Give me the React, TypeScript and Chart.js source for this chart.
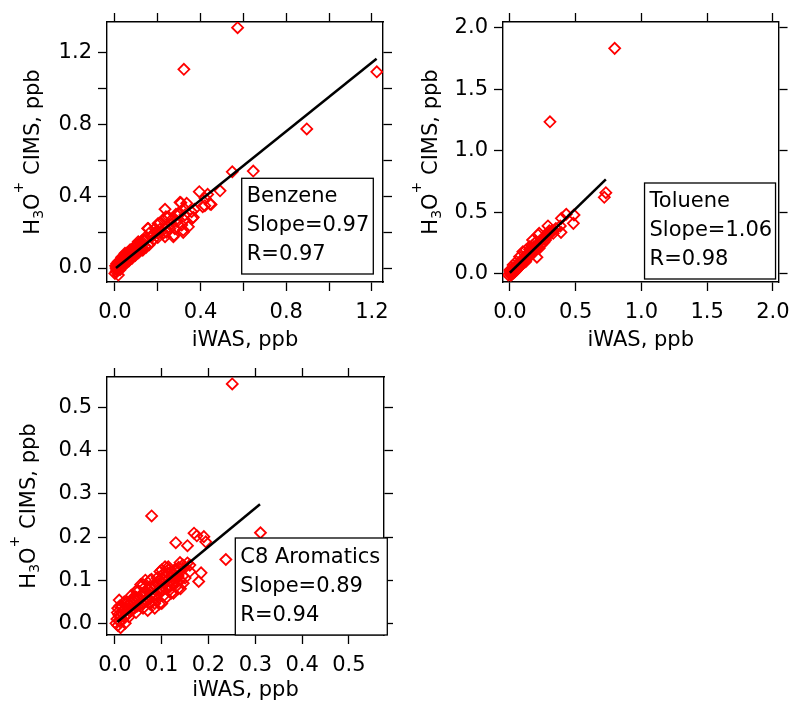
import React, { useEffect, useRef } from "react";
import { Chart, registerables } from "chart.js";

Chart.register(...registerables);

const FONT_FAMILY = "'DejaVu Sans', 'Lucida Grande', sans-serif";

// ---------------- Benzene ----------------
const benzenePoints: [number, number][] = [
  [0.573, 1.341], [0.322, 1.109], [1.223, 1.095], [0.896, 0.776], [0.646, 0.541], [0.548, 0.537],
  [0.491, 0.431], [0.394, 0.426], [0.421, 0.389], [0.449, 0.355], [0.41, 0.342], [0.308, 0.364],
  [0.335, 0.361], [0.322, 0.333], [0.371, 0.328], [0.296, 0.305], [0.327, 0.296], [0.361, 0.277],
  [0.238, 0.286], [0.202, 0.249], [0.226, 0.268], [0.319, 0.212], [0.312, 0.24], [0.276, 0.184],
  [0.234, 0.175], [0.202, 0.194], [0.153, 0.221], [0.187, 0.221], [0.257, 0.221], [0.171, 0.175],
  [0.14, 0.156], [0.109, 0.147], [0.125, 0.128], [0.093, 0.11], [0.07, 0.1], [0.047, 0.082],
  [0.031, 0.06], [0.016, 0.035], [0.008, -0.011], [0.016, -0.039], [0.0, -0.03], [0.171, 0.147],
  [0.14, 0.12], [0.109, 0.1], [0.433, 0.411], [0.444, 0.357], [0.42, 0.348], [0.304, 0.367],
  [0.358, 0.314], [0.366, 0.283], [0.324, 0.268], [0.304, 0.305], [0.249, 0.286], [0.234, 0.328],
  [0.156, 0.221], [0.226, 0.194], [0.273, 0.175], [0.319, 0.199], [0.343, 0.23], [0.265, 0.246],
  [0.21, 0.216], [0.179, 0.184], [0.132, 0.156],
  [0.005, 0.0], [0.01, 0.01], [0.012, -0.005], [0.018, 0.02], [0.02, 0.005], [0.022, 0.03],
  [0.025, 0.015], [0.028, 0.04], [0.03, 0.02], [0.033, 0.05], [0.035, 0.03], [0.038, 0.045],
  [0.04, 0.06], [0.042, 0.03], [0.045, 0.07], [0.048, 0.05], [0.05, 0.035], [0.052, 0.075],
  [0.055, 0.06], [0.058, 0.085], [0.06, 0.045], [0.062, 0.07], [0.065, 0.09], [0.068, 0.055],
  [0.07, 0.08], [0.073, 0.1], [0.075, 0.065], [0.078, 0.085], [0.08, 0.105], [0.083, 0.07],
  [0.085, 0.095], [0.088, 0.115], [0.09, 0.08], [0.093, 0.12], [0.095, 0.09], [0.098, 0.125],
  [0.1, 0.085], [0.104, 0.13], [0.107, 0.1], [0.11, 0.135], [0.113, 0.11], [0.117, 0.14],
  [0.12, 0.1], [0.124, 0.15], [0.128, 0.115], [0.003, 0.012], [0.008, 0.025], [0.015, 0.0],
  [0.006, -0.02], [0.024, -0.01], [0.035, 0.01], [0.045, 0.02], [0.055, 0.03], [0.065, 0.04],
  [0.08, 0.055], [0.095, 0.07], [0.11, 0.085], [0.13, 0.1], [0.145, 0.115], [0.16, 0.13],
  [0.18, 0.16], [0.19, 0.2], [0.2, 0.17], [0.215, 0.2], [0.24, 0.2], [0.25, 0.23], [0.28, 0.22],
  [0.29, 0.26], [0.145, 0.175], [0.165, 0.2], [0.21, 0.25], [0.265, 0.27], [0.285, 0.3],
];
const benzeneFit: [number, number][] = [[0.005, 0.0], [1.222, 1.168]];
const benzeneLabel = ["Benzene", "Slope=0.97", "R=0.97"];
const benzeneXTicks = [0, 0.2, 0.4, 0.6, 0.8, 1.0, 1.2];
const benzeneXTickLabels = ["0.0", "", "0.4", "", "0.8", "", "1.2"];
const benzeneYTicks = [0, 0.2, 0.4, 0.6, 0.8, 1.0, 1.2];
const benzeneYTickLabels = ["0.0", "", "0.4", "", "0.8", "", "1.2"];

// ---------------- Toluene ----------------
const toluenePoints: [number, number][] = [
  [0.797, 1.832], [0.305, 1.236], [0.73, 0.66], [0.718, 0.623], [0.488, 0.479], [0.483, 0.411],
  [0.429, 0.485], [0.392, 0.452], [0.389, 0.338], [0.29, 0.39], [0.215, 0.317], [0.206, 0.136],
  [0.384, 0.39], [0.297, 0.33], [0.272, 0.276], [0.223, 0.33], [0.173, 0.276], [0.149, 0.222],
  [0.124, 0.195], [0.099, 0.181], [0.074, 0.14], [0.05, 0.1], [0.025, 0.073], [0.0, 0.032],
  [-0.012, -0.008], [0.223, 0.209],
  [0.005, 0.0], [0.01, 0.015], [0.015, 0.005], [0.02, 0.03], [0.025, 0.02], [0.03, 0.045],
  [0.035, 0.03], [0.04, 0.055], [0.045, 0.035], [0.05, 0.065], [0.055, 0.05], [0.06, 0.08],
  [0.065, 0.06], [0.07, 0.09], [0.075, 0.07], [0.08, 0.1], [0.085, 0.08], [0.09, 0.11],
  [0.095, 0.09], [0.1, 0.12], [0.105, 0.1], [0.11, 0.135], [0.115, 0.11], [0.12, 0.145],
  [0.125, 0.12], [0.13, 0.16], [0.135, 0.13], [0.14, 0.17], [0.145, 0.14], [0.15, 0.18],
  [0.155, 0.15], [0.16, 0.19], [0.165, 0.16], [0.17, 0.2], [0.175, 0.17], [0.18, 0.21],
  [0.185, 0.18], [0.19, 0.22], [0.2, 0.23], [0.21, 0.24], [0.22, 0.25], [0.23, 0.26],
  [0.24, 0.28], [0.25, 0.29], [0.26, 0.3], [0.2, 0.2], [0.24, 0.24], [0.26, 0.26],
  [0.28, 0.31], [0.3, 0.32], [0.32, 0.35], [0.35, 0.37], [0.012, 0.04], [0.003, 0.02],
  [0.008, -0.01], [0.02, 0.0], [0.03, 0.01], [0.04, 0.02], [0.05, 0.03], [0.06, 0.045],
  [0.07, 0.055], [0.08, 0.065], [0.09, 0.075], [0.1, 0.085], [0.12, 0.1],
  [0.15, 0.2], [0.16, 0.17], [0.18, 0.19], [0.19, 0.25], [0.2, 0.26], [0.21, 0.22],
  [0.25, 0.25], [0.27, 0.3], [0.3, 0.35], [0.33, 0.33], [0.17, 0.23],
];
const tolueneFit: [number, number][] = [[0.0, 0.01], [0.73, 0.769]];
const tolueneLabel = ["Toluene", "Slope=1.06", "R=0.98"];
const tolueneXTicks = [0, 0.5, 1.0, 1.5, 2.0];
const tolueneXTickLabels = ["0.0", "0.5", "1.0", "1.5", "2.0"];
const tolueneYTicks = [0, 0.5, 1.0, 1.5, 2.0];
const tolueneYTickLabels = ["0.0", "0.5", "1.0", "1.5", "2.0"];

// ---------------- C8 Aromatics ----------------
const c8Points: [number, number][] = [
  [0.2507, 0.555], [0.0784, 0.249], [0.311, 0.21], [0.237, 0.148], [0.169, 0.209], [0.175, 0.203],
  [0.19, 0.201], [0.194, 0.189], [0.13, 0.187], [0.155, 0.18], [0.184, 0.117], [0.179, 0.097],
  [0.16, 0.12], [0.146, 0.093], [0.139, 0.141], [0.114, 0.131], [0.1, 0.124], [0.105, 0.117],
  [0.128, 0.104], [0.117, 0.085], [0.078, 0.102], [0.009, 0.054], [0.1, 0.046], [0.085, 0.046],
  [0.043, 0.062], [0.107, 0.131], [0.096, 0.12], [0.11, 0.12], [0.075, 0.1], [0.118, 0.097],
  [0.128, 0.108],
  [0.002, 0.0], [0.004, 0.01], [0.006, -0.005], [0.008, 0.02], [0.01, 0.005], [0.012, 0.015],
  [0.014, 0.025], [0.016, 0.008], [0.018, 0.03], [0.02, 0.015], [0.022, 0.035], [0.024, 0.02],
  [0.026, 0.04], [0.028, 0.022], [0.03, 0.045], [0.032, 0.028], [0.034, 0.05], [0.036, 0.03],
  [0.038, 0.052], [0.04, 0.035], [0.042, 0.055], [0.044, 0.038], [0.046, 0.06], [0.048, 0.04],
  [0.05, 0.058], [0.052, 0.042], [0.055, 0.065], [0.058, 0.045], [0.06, 0.07], [0.062, 0.05],
  [0.065, 0.072], [0.068, 0.052], [0.07, 0.078], [0.072, 0.055], [0.075, 0.082], [0.078, 0.06],
  [0.08, 0.085], [0.082, 0.062], [0.085, 0.09], [0.088, 0.065], [0.09, 0.095], [0.093, 0.07],
  [0.095, 0.1], [0.098, 0.075], [0.1, 0.105], [0.103, 0.078], [0.106, 0.11], [0.11, 0.08],
  [0.113, 0.115], [0.116, 0.085], [0.12, 0.118], [0.124, 0.09], [0.128, 0.125], [0.132, 0.095],
  [0.136, 0.13], [0.14, 0.1], [0.145, 0.135], [0.15, 0.105], [0.03, 0.015], [0.045, 0.025],
  [0.06, 0.035], [0.075, 0.045], [0.09, 0.055], [0.105, 0.065], [0.12, 0.07], [0.135, 0.08],
  [0.005, 0.025], [0.015, 0.04], [0.025, 0.05], [0.035, 0.065], [0.05, 0.075], [0.065, 0.085],
  [0.012, -0.01], [0.022, 0.0], [0.006, 0.035],
  [0.06, 0.09], [0.065, 0.1], [0.07, 0.06], [0.08, 0.07], [0.09, 0.105], [0.095, 0.08],
  [0.1, 0.095], [0.11, 0.1], [0.115, 0.125], [0.12, 0.11], [0.125, 0.095], [0.13, 0.12],
  [0.135, 0.11], [0.14, 0.125], [0.145, 0.11], [0.15, 0.13], [0.155, 0.14], [0.16, 0.135],
  [0.085, 0.035], [0.095, 0.045], [0.07, 0.03], [0.11, 0.06], [0.125, 0.07], [0.14, 0.08],
  [0.055, 0.09], [0.045, 0.075], [0.035, 0.055], [0.02, 0.05], [0.01, 0.04], [0.115, 0.075],
  [0.13, 0.085],
];
const c8Fit: [number, number][] = [[0.005, 0.003], [0.31, 0.276]];
const c8Label = ["C8 Aromatics", "Slope=0.89", "R=0.94"];
const c8XTicks = [0, 0.1, 0.2, 0.3, 0.4, 0.5];
const c8XTickLabels = ["0.0", "0.1", "0.2", "0.3", "0.4", "0.5"];
const c8YTicks = [0, 0.1, 0.2, 0.3, 0.4, 0.5];
const c8YTickLabels = ["0.0", "0.1", "0.2", "0.3", "0.4", "0.5"];

const xTitleText = "iWAS, ppb";

type PanelProps = {
  points: [number, number][];
  fit: [number, number][];
  label: string[];
  xTicks: number[];
  xTickLabels: string[];
  yTicks: number[];
  yTickLabels: string[];
  xMin: number; xMax: number; yMin: number; yMax: number;
  left: number; top: number; width: number; height: number;
  axisLeft: number; axisRight: number; axisTop: number; axisBottom: number;
  box: { dx: number; dy: number; w: number; h: number; first: number };
  yTitleOffset: number;
  xTitlePadBottom: number;
};

function Panel(p: PanelProps) {
  const ref = useRef<HTMLCanvasElement | null>(null);

  useEffect(() => {
    if (!ref.current) return;
    const tickFont = { family: FONT_FAMILY, size: 21 };

    const axis = (
      position: string,
      min: number,
      max: number,
      ticks: number[],
      labels: string[],
      size: number,
      showLabels: boolean,
      withTitle: boolean
    ): any => {
      const horizontal = position === "top" || position === "bottom";
      return {
        type: "linear",
        position,
        min,
        max,
        afterBuildTicks: (s: any) => {
          s.ticks = ticks.map((v) => ({ value: v }));
        },
        afterFit: (s: any) => {
          if (horizontal) s.height = size;
          else s.width = size;
        },
        ticks: {
          display: showLabels,
          autoSkip: false,
          maxRotation: 0,
          minRotation: 0,
          padding: horizontal ? 9 : 6,
          font: tickFont,
          color: "#000",
          callback: (_v: any, i: number) => labels[i],
        },
        grid: {
          display: true,
          drawOnChartArea: false,
          drawTicks: true,
          tickLength: 9,
          tickColor: "#000",
          tickWidth: 1.3,
        },
        border: { display: true, color: "#000", width: 1.4 },
        title: withTitle
          ? {
              display: true,
              text: xTitleText,
              font: { family: FONT_FAMILY, size: 21 },
              color: "#000",
              padding: { top: 0, bottom: p.xTitlePadBottom },
            }
          : { display: false },
      };
    };

    const decor = {
      id: "decor",
      afterDraw(chart: any) {
        const { ctx, chartArea } = chart;
        // y-axis title with sub/superscript
        ctx.save();
        const cx = chartArea.left - p.yTitleOffset;
        const cy = (chartArea.top + chartArea.bottom) / 2;
        const big = `21px ${FONT_FAMILY}`;
        const small = `14px ${FONT_FAMILY}`;
        const segs = [
          { t: "H", f: big, dy: 0 },
          { t: "3", f: small, dy: 4.5 },
          { t: "O", f: big, dy: 0 },
          { t: "+", f: small, dy: -16 },
          { t: " CIMS, ppb", f: big, dy: 0 },
        ];
        let total = 0;
        for (const s of segs) {
          ctx.font = s.f;
          total += ctx.measureText(s.t).width;
        }
        ctx.translate(cx, cy);
        ctx.rotate(-Math.PI / 2);
        ctx.fillStyle = "#000";
        ctx.textBaseline = "alphabetic";
        ctx.textAlign = "left";
        let x = -total / 2;
        for (const s of segs) {
          ctx.font = s.f;
          ctx.fillText(s.t, x, 7.5 + s.dy);
          x += ctx.measureText(s.t).width;
        }
        ctx.restore();

        // annotation box
        ctx.save();
        const bx = chartArea.right + p.box.dx - p.box.w;
        const by = chartArea.bottom + p.box.dy - p.box.h;
        ctx.fillStyle = "#fff";
        ctx.fillRect(bx, by, p.box.w, p.box.h);
        ctx.strokeStyle = "#000";
        ctx.lineWidth = 1.3;
        ctx.strokeRect(bx, by, p.box.w, p.box.h);
        ctx.font = `21px ${FONT_FAMILY}`;
        ctx.fillStyle = "#000";
        ctx.textBaseline = "middle";
        ctx.textAlign = "left";
        p.label.forEach((t, i) => {
          ctx.fillText(t, bx + 5, by + p.box.first + i * 29);
        });
        ctx.restore();
      },
    };

    const chart = new Chart(ref.current, {
      type: "scatter",
      data: {
        datasets: [
          {
            label: "fit",
            data: p.fit.map(([x, y]) => ({ x, y })),
            showLine: true,
            borderColor: "#000",
            borderWidth: 2.5,
            pointRadius: 0,
            fill: false,
          } as any,
          {
            label: "points",
            data: p.points.map(([x, y]) => ({ x, y })),
            pointStyle: "rectRot",
            pointRadius: 5.5,
            borderColor: "#ff0000",
            borderWidth: 1.8,
            backgroundColor: "rgba(0,0,0,0)",
          } as any,
        ],
      },
      options: {
        responsive: false,
        animation: false,
        events: [],
        layout: { padding: 0 },
        plugins: { legend: { display: false }, tooltip: { enabled: false } },
        scales: {
          x: axis("bottom", p.xMin, p.xMax, p.xTicks, p.xTickLabels, p.axisBottom, true, true),
          x2: axis("top", p.xMin, p.xMax, p.xTicks, p.xTickLabels, p.axisTop, false, false),
          y: axis("left", p.yMin, p.yMax, p.yTicks, p.yTickLabels, p.axisLeft, true, false),
          y2: axis("right", p.yMin, p.yMax, p.yTicks, p.yTickLabels, p.axisRight, false, false),
        },
      } as any,
      plugins: [decor],
    });
    return () => chart.destroy();
  }, []);

  return (
    <div style={{ position: "absolute", left: p.left, top: p.top, width: p.width, height: p.height }}>
      <canvas ref={ref} width={p.width} height={p.height} style={{ display: "block" }} />
    </div>
  );
}

export default function App() {
  return (
    <div style={{ position: "absolute", left: 0, top: 0, width: 799, height: 707, background: "#fff", overflow: "hidden" }}>
      <Panel
        points={benzenePoints} fit={benzeneFit} label={benzeneLabel}
        xTicks={benzeneXTicks} xTickLabels={benzeneXTickLabels}
        yTicks={benzeneYTicks} yTickLabels={benzeneYTickLabels}
        xMin={-0.037} xMax={1.252} yMin={-0.078} yMax={1.373}
        left={0} top={0} width={400} height={355}
        axisLeft={107} axisRight={17} axisTop={22} axisBottom={73}
        box={{ dx: -9.7, dy: -8, w: 131.6, h: 95.7, first: 18.7 }}
        yTitleOffset={76} xTitlePadBottom={1.4}
      />
      <Panel
        points={toluenePoints} fit={tolueneFit} label={tolueneLabel}
        xTicks={tolueneXTicks} xTickLabels={tolueneXTickLabels}
        yTicks={tolueneYTicks} yTickLabels={tolueneYTickLabels}
        xMin={-0.052} xMax={2.043} yMin={-0.065} yMax={2.046}
        left={396} top={0} width={403} height={355}
        axisLeft={107} axisRight={14} axisTop={22} axisBottom={73}
        box={{ dx: -3, dy: -3, w: 131, h: 96, first: 18.7 }}
        yTitleOffset={74} xTitlePadBottom={1.4}
      />
      <Panel
        points={c8Points} fit={c8Fit} label={c8Label}
        xTicks={c8XTicks} xTickLabels={c8XTickLabels}
        yTicks={c8YTicks} yTickLabels={c8YTickLabels}
        xMin={-0.017} xMax={0.575} yMin={-0.027} yMax={0.571}
        left={0} top={355} width={400} height={352}
        axisLeft={107} axisRight={16} axisTop={22} axisBottom={72}
        box={{ dx: 3.3, dy: 0, w: 152, h: 97, first: 20 }}
        yTitleOffset={80} xTitlePadBottom={3.4}
      />
    </div>
  );
}
